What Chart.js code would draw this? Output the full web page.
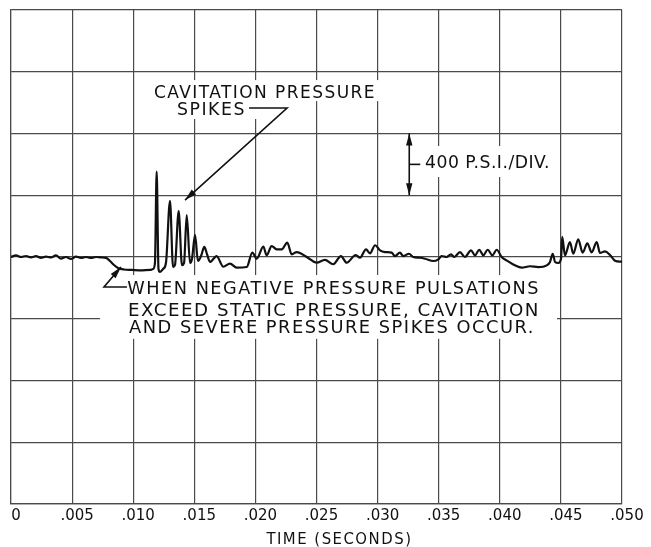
<!DOCTYPE html>
<html>
<head>
<meta charset="utf-8">
<script src="https://cdn.jsdelivr.net/npm/chart.js@4/dist/chart.umd.min.js"></script>
<style>
html,body{margin:0;padding:0;background:#fff;}
canvas{display:block;}
</style>
</head>
<body>
<canvas id="c" width="651" height="547"></canvas>
<script>
// ---- data (time in seconds, pressure in p.s.i. relative to static) ----
const timeSec = [
  0, 0.00041, 0.00082, 0.00123, 0.00164, 0.00205, 0.00245, 0.00286, 0.00327, 0.00368,
  0.00409, 0.00450, 0.00491, 0.00532, 0.00573, 0.00614, 0.00655, 0.00696, 0.00736, 0.00777,
  0.00810, 0.00843, 0.00876, 0.00925, 0.00990, 0.01072, 0.01137, 0.01162, 0.01178, 0.01192,
  0.01207, 0.01219, 0.01244, 0.01268, 0.01301, 0.01326, 0.01342, 0.01372, 0.01399, 0.01416,
  0.01438, 0.01465, 0.01481, 0.01506, 0.01530, 0.01555, 0.01582, 0.01604,
  0.01628, 0.01683, 0.01737, 0.01792, 0.01847, 0.01929, 0.01975, 0.02011, 0.02065, 0.02092,
  0.02133, 0.02174, 0.02215, 0.02261, 0.02297, 0.02338, 0.02420, 0.02502, 0.02569, 0.02637,
  0.02700, 0.02747, 0.02821, 0.02856, 0.02905, 0.02938, 0.02979, 0.03020, 0.03060, 0.03115,
  0.03142, 0.03183, 0.03210, 0.03257, 0.03292, 0.03347,
  0.03388, 0.03456, 0.03497, 0.03524, 0.03565, 0.03601, 0.03628, 0.03674, 0.03715, 0.03764,
  0.03797, 0.03832, 0.03865, 0.03901, 0.03939, 0.03975, 0.04015, 0.04069, 0.04124, 0.04179,
  0.04247, 0.04315, 0.04384, 0.04411, 0.04433, 0.04452, 0.04479, 0.04501, 0.04511, 0.04533,
  0.04574, 0.04601, 0.04642, 0.04678, 0.04716, 0.04752, 0.04793, 0.04820, 0.04861, 0.04902,
  0.04943, 0.04983, 0.05000
];
const pressurePsi = [
  0, 10, 0, 6, -3, 6, -6, 3, -3, 10,
  -10, 0, -13, 3, -6, 0, -6, 0, -3, -6,
  -26, -52, -71, -81, -84, -87, -84, -78, -39, 553,
  -78, -97, -78, -39, 363, -65, -52, 298, -52, -39,
  272, -39, -13, 143, -26, 6, 65, 19,
  -32, 6, -63, -43, -69, -65, 28, -11, 67, 11,
  71, 50, 50, 93, 17, 32, 0, -37, -19, -47,
  6, -37, 13, -5, 50, 24, 76, 43, 32, 28,
  6, 28, 6, 21, 0, -5,
  -11, -26, -15, 6, 0, 17, 0, 32, 0, 43,
  11, 47, 11, 47, 11, 47, 0, -28, -54, -69,
  -60, -65, -54, -32, 21, -32, -39, -11, 130, 11,
  97, 21, 115, 28, 89, 30, 97, 26, 37, 13,
  -24, -30, -30
];
const xTickLabels = ['0', '.005', '.010', '.015', '.020', '.025', '.030', '.035', '.040', '.045', '.050'];
const xTitle = 'TIME (SECONDS)';
const noteSpikes = ['CAVITATION PRESSURE', 'SPIKES'];
const noteScale = '400 P.S.I./DIV.';
const noteCavitation = [
  'WHEN NEGATIVE PRESSURE PULSATIONS',
  'EXCEED STATIC PRESSURE, CAVITATION',
  'AND SEVERE PRESSURE SPIKES OCCUR.'
];

// ---- annotation layout, in data units (seconds, psi) ----
const FONT = '"DejaVu Sans", "Liberation Sans", sans-serif';
const whiteBoxes = [
  [0.01121, 0.03036, 1146, 1010],
  [0.01317, 0.02365, 1017, 894],
  [0.03363, 0.04460, 719, 518],
  [0.00728, 0.04468, -117, -530]
];
const textItems = [
  { text: noteSpikes[0], t0: 0.01170, t1: 0.02987, v: 1030, cap: 13, ls: 1.5 },
  { text: noteSpikes[1], t0: 0.01358, t1: 0.01923, v: 920, cap: 12.5, ls: 1.5 },
  { text: noteScale, t0: 0.03388, t1: 0.04411, v: 577, cap: 13, ls: 0.5 },
  { text: noteCavitation[0], t0: 0.00952, t1: 0.04329, v: -240, cap: 13, ls: 1.5 },
  { text: noteCavitation[1], t0: 0.00957, t1: 0.04329, v: -382, cap: 13, ls: 1.5 },
  { text: noteCavitation[2], t0: 0.00966, t1: 0.04288, v: -492, cap: 13, ls: 1.5 }
];
// axis title, placed as in the original drawing (slightly right of centre)
const titleItem = { text: xTitle, t0: 0.02090, t1: 0.03285, cap: 11, ls: 1.5 };
const leaders = [
  { pts: [[0.01948, 965], [0.02259, 965], [0.01424, 369]], head: 'end' },
  { pts: [[0.00949, -194], [0.00761, -194], [0.00900, -65]], head: 'end' },
  { pts: [[0.03259, 800], [0.03259, 400]], head: 'both' },
  { pts: [[0.03259, 600], [0.03349, 600]], head: 'none' }
];

function arrowHead(ctx, x1, y1, x2, y2, len, half) {
  const a = Math.atan2(y2 - y1, x2 - x1);
  ctx.beginPath();
  ctx.moveTo(x2, y2);
  ctx.lineTo(x2 - len * Math.cos(a) + half * Math.sin(a), y2 - len * Math.sin(a) - half * Math.cos(a));
  ctx.lineTo(x2 - len * Math.cos(a) - half * Math.sin(a), y2 - len * Math.sin(a) + half * Math.cos(a));
  ctx.closePath();
  ctx.fill();
}

function fitText(ctx, it, xl, xr, yb) {
  const size = it.cap / 0.729;
  ctx.font = size.toFixed(2) + 'px ' + FONT;
  if ('letterSpacing' in ctx) ctx.letterSpacing = (it.ls || 0) + 'px';
  const w = ctx.measureText(it.text).width;
  const sx = (xr - xl) / w;
  ctx.save();
  ctx.translate(xl, yb);
  ctx.scale(sx, 1);
  ctx.fillText(it.text, 0, 0);
  ctx.restore();
  if ('letterSpacing' in ctx) ctx.letterSpacing = '0px';
}

const annotPlugin = {
  id: 'annot',
  beforeDatasetsDraw(chart) {
    const { ctx, scales } = chart;
    const X = t => scales.x.getPixelForValue(t);
    const Y = v => scales.y.getPixelForValue(v);
    ctx.save();
    ctx.fillStyle = '#ffffff';
    whiteBoxes.forEach(b => {
      ctx.fillRect(X(b[0]), Y(b[2]), X(b[1]) - X(b[0]), Y(b[3]) - Y(b[2]));
    });
    ctx.fillStyle = '#111';
    ctx.textBaseline = 'alphabetic';
    ctx.textAlign = 'left';
    textItems.forEach(it => fitText(ctx, it, X(it.t0), X(it.t1), Y(it.v)));
    // x-axis title below the tick labels
    fitText(ctx, titleItem, X(titleItem.t0), X(titleItem.t1), chart.height - 3);
    ctx.strokeStyle = '#111';
    ctx.lineWidth = 1.6;
    leaders.forEach(l => {
      const p = l.pts.map(q => [X(q[0]), Y(q[1])]);
      ctx.beginPath();
      ctx.moveTo(p[0][0], p[0][1]);
      for (let i = 1; i < p.length; i++) ctx.lineTo(p[i][0], p[i][1]);
      ctx.stroke();
      const n = p.length;
      if (l.head === 'end' || l.head === 'both') arrowHead(ctx, p[n - 2][0], p[n - 2][1], p[n - 1][0], p[n - 1][1], 12, 3.2);
      if (l.head === 'both') arrowHead(ctx, p[1][0], p[1][1], p[0][0], p[0][1], 12, 3.2);
    });
    ctx.restore();
  }
};

const points = timeSec.map((t, i) => ({ x: t, y: pressurePsi[i] }));
const gridColor = '#4a4a4a';

new Chart(document.getElementById('c'), {
  type: 'line',
  data: {
    datasets: [{
      data: points,
      borderColor: '#111',
      borderWidth: 2.2,
      pointRadius: 0,
      fill: false,
      cubicInterpolationMode: 'monotone'
    }]
  },
  options: {
    responsive: false,
    animation: false,
    devicePixelRatio: 1,
    layout: { padding: { left: 11, right: 29, top: 10, bottom: 0 } },
    plugins: { legend: { display: false }, tooltip: { enabled: false } },
    scales: {
      x: {
        type: 'linear', min: 0, max: 0.05,
        ticks: {
          stepSize: 0.005, autoSkip: false, maxRotation: 0,
          callback: v => xTickLabels[Math.round(v / 0.005)],
          font: { family: FONT, size: 15 }, color: '#111', padding: 3, labelOffset: 5
        },
        grid: { color: gridColor, lineWidth: 1.2, drawTicks: false },
        border: { color: gridColor, width: 1.2 },
        title: { display: false, text: xTitle },
        afterFit(s) { s.height = 43; }
      },
      y: {
        min: -1600, max: 1600,
        ticks: { stepSize: 400, display: false },
        grid: { color: gridColor, lineWidth: 1.2, drawTicks: false },
        border: { color: gridColor, width: 1.2 },
        afterFit(s) { s.width = 0; }
      }
    }
  },
  plugins: [annotPlugin]
});
</script>
</body>
</html>
